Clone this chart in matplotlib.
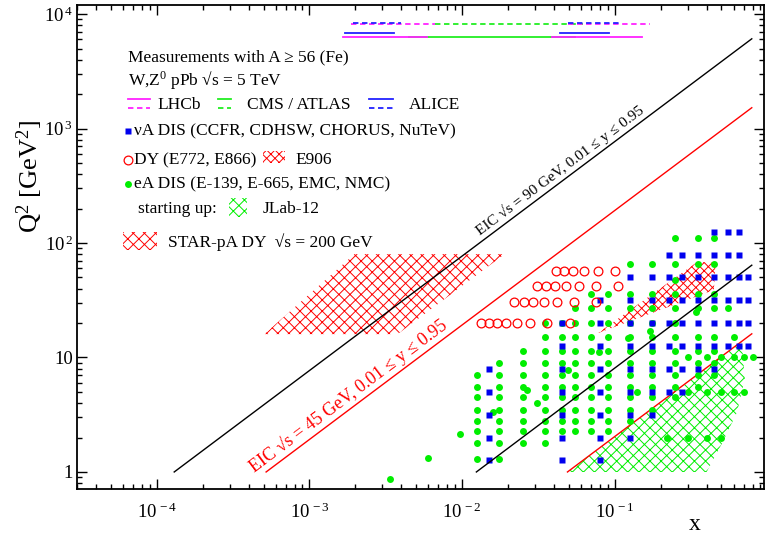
import numpy as np
import matplotlib.pyplot as plt
from matplotlib.patches import Polygon, Rectangle
from matplotlib.lines import Line2D
from matplotlib.ticker import FixedLocator, LogLocator, NullFormatter

plt.rcParams['font.family'] = ['Liberation Serif', 'DejaVu Serif']
plt.rcParams['mathtext.fontset'] = 'custom'
plt.rcParams['mathtext.rm'] = 'Liberation Serif'
plt.rcParams['mathtext.it'] = 'Liberation Serif:italic'
plt.rcParams['hatch.linewidth'] = 0.7

# ---- data ----
# nuA DIS (CCFR, CDHSW, CHORUS, NuTeV): x columns and the Q2 bins present in each
nu_x = [0.015, 0.045, 0.08, 0.125, 0.175, 0.225, 0.275, 0.35, 0.45, 0.55, 0.65, 0.75]
nu_q2 = [
    [1.26, 2.0, 3.16, 5.0, 7.9],
    [1.26, 2.0, 3.16, 5.0, 7.9, 12.6, 20.0],
    [1.26, 2.0, 3.16, 5.0, 7.9, 12.6, 20.0, 31.6],
    [2.0, 3.16, 5.0, 7.9, 12.6, 20.0, 31.6, 50.0],
    [3.16, 5.0, 7.9, 12.6, 20.0, 31.6, 50.0],
    [5.0, 7.9, 12.6, 20.0, 31.6, 50.0, 79.0],
    [5.0, 7.9, 12.6, 20.0, 31.6, 50.0, 79.0],
    [7.9, 12.6, 20.0, 31.6, 50.0, 79.0],
    [7.9, 12.6, 20.0, 31.6, 50.0, 79.0, 126.0],
    [12.6, 20.0, 31.6, 50.0, 79.0, 126.0],
    [12.6, 20.0, 31.6, 50.0, 79.0, 126.0],
    [12.6, 20.0, 31.6, 50.0],
]

# DY (E772, E866): rows of constant Q2
dy_q2 = [20.2, 30.5, 42.1, 56.9]
dy_x = [
    [0.0132, 0.0149, 0.0168, 0.0193, 0.0228, 0.0277, 0.0358, 0.0507],
    [0.0219, 0.0253, 0.0290, 0.0342, 0.0417, 0.0539, 0.0751],
    [0.0308, 0.0353, 0.0404, 0.0477, 0.0581, 0.0751, 0.1046],
    [0.0410, 0.0463, 0.0530, 0.0626, 0.0774, 0.100],
]

# eA DIS, NMC-like grid: x columns and Q2 values
ea_x = [0.0125, 0.0175, 0.025, 0.035, 0.045, 0.055, 0.07, 0.09, 0.125, 0.175, 0.25, 0.35, 0.45, 0.55, 0.6]
ea_q2 = [
    [1.3, 1.8, 2.3, 2.8, 3.5, 4.5, 5.5, 7.0],
    [1.3, 1.8, 2.3, 2.8, 3.5, 4.5, 5.5, 7.0, 9.0],
    [1.8, 2.3, 2.8, 3.5, 4.5, 5.5, 7.0, 9.0, 11.5],
    [1.8, 2.3, 2.8, 3.5, 4.5, 5.5, 7.0, 9.0, 11.5, 15.0, 20.0],
    [2.3, 2.8, 3.5, 4.5, 5.5, 7.0, 9.0, 11.5, 15.0, 20.0],
    [2.3, 2.8, 3.5, 4.5, 5.5, 7.0, 9.0, 11.5, 15.0, 20.0, 27.0],
    [2.3, 2.8, 3.5, 4.5, 5.5, 7.0, 9.0, 11.5, 15.0, 20.0, 27.0, 36.0],
    [2.3, 2.8, 3.5, 4.5, 5.5, 7.0, 9.0, 11.5, 15.0, 20.0, 27.0, 36.0],
    [2.8, 3.5, 4.5, 5.5, 7.0, 9.0, 11.5, 15.0, 20.0, 27.0, 36.0, 65.0],
    [3.5, 4.5, 5.5, 7.0, 9.0, 11.5, 15.0, 20.0, 27.0, 36.0, 65.0],
    [4.5, 5.5, 7.0, 9.0, 11.5, 15.0, 20.0, 27.0, 36.0, 48.0, 65.0, 110.0],
    [5.5, 7.0, 9.0, 11.5, 15.0, 27.0, 36.0, 65.0, 110.0],
    [7.0, 9.0, 11.5, 15.0, 27.0, 36.0, 65.0, 110.0],
    [27.0],
    [15.0],
]
# eA DIS, E-139-like rows
e139_q2 = [2.0, 5.0, 10.0]
e139_x = [
    [0.22, 0.3, 0.4, 0.5],
    [0.14, 0.3, 0.4, 0.5, 0.6, 0.7],
    [0.3, 0.4, 0.5, 0.6, 0.7, 0.8],
]
# eA DIS, scattered points (E-665 etc.)
ea_extra_x = [3.35e-3, 5.94e-3, 9.64e-3, 0.0159, 0.0268, 0.0308, 0.0494, 0.0785, 0.122, 0.171, 0.343]
ea_extra_q2 = [0.87, 1.32, 2.13, 3.32, 5.24, 4.03, 7.78, 11.2, 14.7, 17.0, 24.9]

# kinematic lines (x, Q2 end points)
eic90_x, eic90_q2 = [1.3e-4, 0.79], [1.0, 6080.0]
eic45_x, eic45_q2 = [5.2e-4, 0.79], [1.0, 1520.0]
low_x, low_q2 = [0.0124, 0.79], [1.0, 64.0]
jlab_line_x, jlab_line_q2 = [0.049, 0.79], [1.0, 16.1]

# hatched regions (polygon vertices)
star_x = [5.07e-4, 3.78e-3, 1.9e-2, 1.97e-3]
star_q2 = [16.0, 16.0, 80.0, 80.0]
e906_x = [0.0774, 0.345, 0.459, 0.446]
e906_q2 = [16.3, 68.0, 68.0, 38.9]
jlab_x = [0.049, 0.68, 0.711, 0.631, 0.51, 0.40]
jlab_q2 = [1.0, 13.9, 6.4, 3.3, 1.83, 1.0]

# W,Z0 pPb at 5 TeV: (xmin, xmax, Q2)
lhcb_w = [(1.67e-3, 5.85e-3, 6300), (0.039, 0.150, 6300)]
lhcb_z = [(1.88e-3, 6.6e-3, 8130), (0.0492, 0.170, 8130)]
cms_w = [(4.5e-3, 0.0547, 6300)]
cms_z = [(6.6e-3, 0.0617, 8130)]
alice_w = [(1.72e-3, 3.6e-3, 6825), (0.0436, 0.0913, 6825)]
alice_z = [(1.92e-3, 4.0e-3, 8400), (0.0492, 0.111, 8400)]

RED = '#ff0000'
GREEN = '#00ee00'
BLUE = '#0000ee'
MAG = '#ff22ff'
LGREEN = '#22ee22'
LBLUE = '#2222ff'

W, H = 765, 537
fig = plt.figure(figsize=(7.65, 5.37), dpi=100)
ax = fig.add_axes([77 / W, 1 - 489 / H, (764 - 77) / W, (489 - 5) / H])
ax.set_xscale('log')
ax.set_yscale('log')
ax.set_xlim(3e-5, 0.95)
ax.set_ylim(0.71, 1.2e4)


def fx(px):
    return px / W


def fy(py):
    return 1 - py / H


# hatched regions
ax.add_patch(Polygon(list(zip(star_x, star_q2)), closed=True, fill=False,
                     hatch='xxx', edgecolor=RED, lw=0, zorder=1))
ax.add_patch(Polygon(list(zip(e906_x, e906_q2)), closed=True, fill=False,
                     hatch='xxxx', edgecolor=RED, lw=0, zorder=1))
ax.add_patch(Polygon(list(zip(jlab_x, jlab_q2)), closed=True, fill=False,
                     hatch='xxx', edgecolor=GREEN, lw=0, zorder=1))

# kinematic lines
ax.plot(eic90_x, eic90_q2, color='black', lw=1.0, zorder=2)
ax.plot(eic45_x, eic45_q2, color=RED, lw=1.0, zorder=2)
ax.plot(low_x, low_q2, color='black', lw=1.0, zorder=6)
ax.plot(jlab_line_x, jlab_line_q2, color=RED, lw=1.0, zorder=2)

# LHC W/Z lines at the top
for segs, col, ls in [(cms_w, LGREEN, '-'), (lhcb_w, MAG, '-'), (alice_w, LBLUE, '-'),
                      (cms_z, LGREEN, (0, (3, 2))), (lhcb_z, MAG, (0, (3, 2))),
                      (alice_z, LBLUE, (0, (3, 2)))]:
    for x0, x1, q in segs:
        ax.plot([x0, x1], [q, q], color=col, lw=1.3, ls=ls, zorder=2)

# eA DIS points
for xv, qs in zip(ea_x, ea_q2):
    ax.plot([xv] * len(qs), qs, 'o', color=GREEN, ms=5.0, mec='none', zorder=3)
for qv, xs in zip(e139_q2, e139_x):
    ax.plot(xs, [qv] * len(xs), 'o', color=GREEN, ms=5.0, mec='none', zorder=3)
ax.plot(ea_extra_x, ea_extra_q2, 'o', color=GREEN, ms=5.0, mec='none', zorder=3)

# nuA DIS points
for xv, qs in zip(nu_x, nu_q2):
    ax.plot([xv] * len(qs), qs, 's', color=BLUE, ms=4.8, mec='none', zorder=4)

# DY points
for qv, xs in zip(dy_q2, dy_x):
    ax.plot(xs, [qv] * len(xs), 'o', mfc='none', mec=RED, mew=0.9, ms=6.3, zorder=5)

# labels along the EIC lines
def line_label(xs, qs, xt, text, color, size, off):
    p0 = ax.transData.transform((xs[0], qs[0]))
    p1 = ax.transData.transform((xs[1], qs[1]))
    ang = np.degrees(np.arctan2(p1[1] - p0[1], p1[0] - p0[0]))
    slope = np.log(qs[1] / qs[0]) / np.log(xs[1] / xs[0])
    qt = qs[0] * (xt / xs[0]) ** slope
    ax.annotate(text, (xt, qt), xytext=(-off * np.sin(np.radians(ang)), off * np.cos(np.radians(ang))),
                textcoords='offset points', rotation=ang, rotation_mode='anchor',
                ha='center', va='bottom', color=color, fontsize=size, zorder=7)

line_label(eic90_x, eic90_q2, 0.048, 'EIC \u221as = 90 GeV, 0.01 \u2264 y \u2264 0.95', 'black', 11, 1.5)
line_label(eic45_x, eic45_q2, 2.0e-3, 'EIC \u221as = 45 GeV, 0.01 \u2264 y \u2264 0.95', RED, 13, 1.5)

# axes styling
ax.xaxis.set_major_locator(FixedLocator([1e-4, 1e-3, 1e-2, 1e-1]))
ax.set_xticklabels([r'$10^{\,-4}$', r'$10^{\,-3}$', r'$10^{\,-2}$', r'$10^{\,-1}$'])
ax.xaxis.set_minor_locator(LogLocator(base=10, subs=np.arange(2, 10), numticks=30))
ax.xaxis.set_minor_formatter(NullFormatter())
ax.yaxis.set_major_locator(FixedLocator([1, 10, 100, 1000, 10000]))
ax.set_yticklabels(['1', '10', r'$10^{\,2}$', r'$10^{\,3}$', r'$10^{\,4}$'])
ax.yaxis.set_minor_locator(LogLocator(base=10, subs=np.arange(2, 10), numticks=30))
ax.yaxis.set_minor_formatter(NullFormatter())
ax.tick_params(which='both', direction='in', top=True, right=True, width=1.0, labelsize=13.5)
ax.tick_params(which='major', length=7.5)
ax.tick_params(which='minor', length=3.8)
ax.tick_params(axis='x', pad=10)
ax.tick_params(axis='y', pad=3)
for s in ax.spines.values():
    s.set_linewidth(1.3)

fig.text(fx(30), fy(176), r'Q$^2$ [GeV$^2$]', rotation=90, ha='center', va='center', fontsize=19)
fig.text(fx(695), fy(530), 'x', ha='center', va='baseline', fontsize=17)

# legend block
tf = fig.transFigure
fs = 12.5
fig.text(fx(128), fy(61), 'Measurements with A \u2265 56 (Fe)', fontsize=fs, va='baseline')
fig.text(fx(128), fy(85), 'W,Z$^0$ pPb \u221as = 5 TeV', fontsize=fs, va='baseline')
for x0, x1, col, lab, xl in [(128, 150, MAG, 'LHCb', 157), (218, 231, LGREEN, 'CMS / ATLAS', 247),
                             (369, 393, LBLUE, 'ALICE', 409)]:
    fig.add_artist(Line2D([fx(x0), fx(x1)], [fy(99), fy(99)], transform=tf, color=col, lw=1.3))
    fig.add_artist(Line2D([fx(x0), fx(x1)], [fy(108), fy(108)], transform=tf, color=col, lw=1.3, ls=(0, (3, 2))))
    fig.text(fx(xl), fy(109), lab, fontsize=fs, va='baseline')

fig.add_artist(Line2D([fx(128)], [fy(131)], transform=tf, marker='s', color=BLUE, ms=4.8, mec='none'))
fig.text(fx(134), fy(135), '\u03bdA DIS (CCFR, CDHSW, CHORUS, NuTeV)', fontsize=fs, va='baseline')
fig.add_artist(Line2D([fx(128)], [fy(160)], transform=tf, marker='o', mfc='none', mec=RED, mew=0.9, ms=6.3))
fig.text(fx(134), fy(164), 'DY (E772, E866)', fontsize=fs, va='baseline')
fig.add_artist(Rectangle((fx(263), fy(163)), fx(285) - fx(263), fy(151) - fy(163), transform=tf,
                         fill=False, hatch='xxxx', edgecolor=RED, lw=0))
fig.text(fx(295), fy(164), 'E906', fontsize=fs, va='baseline')
fig.add_artist(Line2D([fx(128)], [fy(184)], transform=tf, marker='o', color=GREEN, ms=5.0, mec='none'))
fig.text(fx(134), fy(188), 'eA DIS (E-139, E-665, EMC, NMC)', fontsize=fs, va='baseline')
fig.text(fx(138), fy(213), 'starting up:', fontsize=fs, va='baseline')
fig.add_artist(Rectangle((fx(229), fy(217)), fx(247) - fx(229), fy(198) - fy(217), transform=tf,
                         fill=False, hatch='xxx', edgecolor=GREEN, lw=0))
fig.text(fx(263), fy(213), 'JLab-12', fontsize=fs, va='baseline')
fig.add_artist(Rectangle((fx(123), fy(250)), fx(157) - fx(123), fy(232) - fy(250), transform=tf,
                         fill=False, hatch='xxx', edgecolor=RED, lw=0))
fig.text(fx(168), fy(247), 'STAR-pA DY  \u221as = 200 GeV', fontsize=fs, va='baseline')

fig.savefig('out.png', dpi=100)
